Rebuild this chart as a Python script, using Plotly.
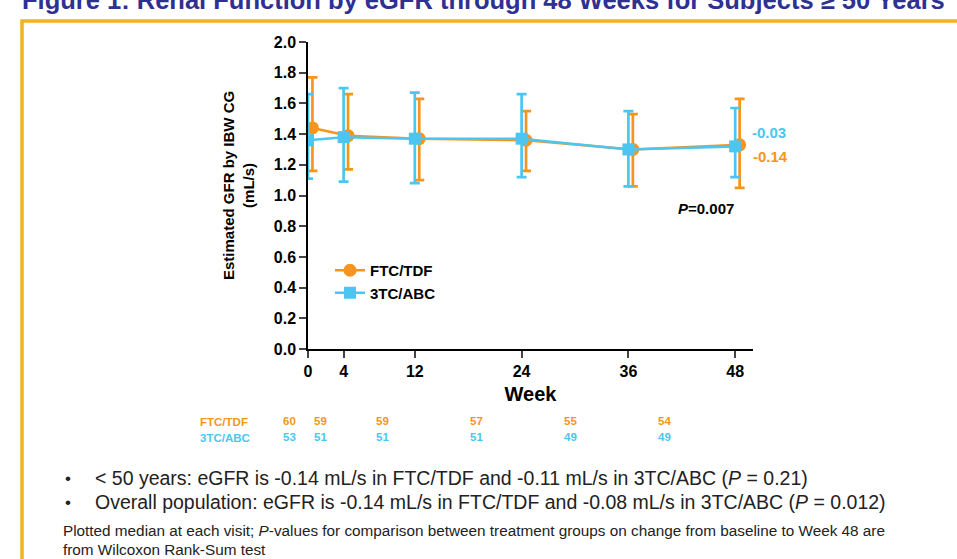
import plotly.graph_objects as go

weeks = [0, 4, 12, 24, 36, 48]
ftc_median = [1.44, 1.39, 1.37, 1.36, 1.30, 1.33]
ftc_upper = [1.77, 1.66, 1.63, 1.55, 1.53, 1.63]
ftc_lower = [1.16, 1.17, 1.10, 1.16, 1.06, 1.05]
abc_median = [1.36, 1.38, 1.37, 1.37, 1.30, 1.32]
abc_upper = [1.66, 1.70, 1.67, 1.66, 1.55, 1.57]
abc_lower = [1.11, 1.09, 1.08, 1.12, 1.06, 1.12]
ftc_n = [60, 59, 59, 57, 55, 54]
abc_n = [53, 51, 51, 51, 49, 49]
ftc_change = "-0.14"
abc_change = "-0.03"
p_value = "0.007"
x_ticks = [0, 4, 12, 24, 36, 48]
y_ticks = [0.0, 0.2, 0.4, 0.6, 0.8, 1.0, 1.2, 1.4, 1.6, 1.8, 2.0]

ORANGE = "#F7941E"
BLUE = "#4CC6F0"
NAVY = "#2E3192"
GOLD = "#F0B323"
TXT = "#222222"
FONT = "Arial, Liberation Sans, sans-serif"

W, H = 957, 559
L, R, T, B = 308, 204, 42, 210
PW, PH = W - L - R, H - T - B


def px(x):
    return (x - L) / PW


def py(y):
    return (H - B - y) / PH


dodge = 0.5

fig = go.Figure()
fig.add_trace(go.Scatter(
    x=[w + dodge for w in weeks], y=ftc_median, name="FTC/TDF",
    mode="lines+markers",
    line=dict(color=ORANGE, width=2.5),
    marker=dict(symbol="circle", size=13, color=ORANGE),
    error_y=dict(type="data", symmetric=False,
                 array=[u - m for u, m in zip(ftc_upper, ftc_median)],
                 arrayminus=[m - l for l, m in zip(ftc_lower, ftc_median)],
                 color=ORANGE, thickness=2.7, width=5),
))
fig.add_trace(go.Scatter(
    x=weeks, y=abc_median, name="3TC/ABC",
    mode="lines+markers",
    line=dict(color=BLUE, width=2.5),
    marker=dict(symbol="square", size=12, color=BLUE),
    error_y=dict(type="data", symmetric=False,
                 array=[u - m for u, m in zip(abc_upper, abc_median)],
                 arrayminus=[m - l for l, m in zip(abc_lower, abc_median)],
                 color=BLUE, thickness=2.7, width=5),
))

fig.update_layout(
    width=W, height=H,
    margin=dict(l=L, r=R, t=T, b=B, autoexpand=False),
    paper_bgcolor="white", plot_bgcolor="white",
    font=dict(family=FONT, color="black"),
    showlegend=True,
    legend=dict(x=px(330), y=py(254), xanchor="left", yanchor="top",
                bgcolor="rgba(0,0,0,0)", tracegroupgap=0,
                font=dict(size=15, family=FONT, color="black", weight="bold"),
                itemwidth=30),
)
fig.update_xaxes(
    range=[0, 50], tickvals=x_ticks, ticks="outside", ticklen=7, tickwidth=1.5,
    showline=True, linecolor="black", linewidth=1.5, showgrid=False, zeroline=False,
    tickfont=dict(size=16, family=FONT, weight="bold"),
    title=dict(text="<b>Week</b>", font=dict(size=20, family=FONT), standoff=8),
)
fig.update_yaxes(
    range=[0, 2.0], tickvals=y_ticks, tickformat=".1f", ticks="outside", ticklen=7,
    tickwidth=1.5, showline=True, linecolor="black", linewidth=1.5,
    showgrid=False, zeroline=False,
    tickfont=dict(size=16, family=FONT, weight="bold"),
)

ann = []
ann.append(dict(xref="paper", yref="paper", x=px(238), y=py(186), xanchor="center",
                yanchor="middle", textangle=-90, showarrow=False,
                text="<b>Estimated GFR by IBW CG<br>(mL/s)</b>",
                font=dict(size=15, color="black", family=FONT)))
ann.append(dict(xref="paper", yref="paper", x=px(750), y=py(132), xanchor="left",
                yanchor="middle", text=f"<b>{abc_change}</b>", showarrow=False,
                font=dict(size=15, color=BLUE, family=FONT)))
ann.append(dict(xref="paper", yref="paper", x=px(751), y=py(156), xanchor="left",
                yanchor="middle", text=f"<b>{ftc_change}</b>", showarrow=False,
                font=dict(size=15, color=ORANGE, family=FONT)))
ann.append(dict(xref="paper", yref="paper", x=px(736), y=py(208), xanchor="right",
                yanchor="middle", text=f"<b><i>P</i>={p_value}</b>", showarrow=False,
                font=dict(size=15, color="black", family=FONT)))

# number-at-risk table
ann.append(dict(xref="paper", yref="paper", x=px(198), y=py(422), xanchor="left",
                yanchor="middle", text="<b>FTC/TDF</b>", showarrow=False,
                font=dict(size=11.5, color=ORANGE, family=FONT)))
ann.append(dict(xref="paper", yref="paper", x=px(198), y=py(438), xanchor="left",
                yanchor="middle", text="<b>3TC/ABC</b>", showarrow=False,
                font=dict(size=11.5, color=BLUE, family=FONT)))
for w, a, b in zip(weeks, ftc_n, abc_n):
    xp = px(289 + 7.83 * w)
    ann.append(dict(xref="paper", yref="paper", x=xp, y=py(421), xanchor="center",
                    yanchor="middle", text=f"<b>{a}</b>", showarrow=False,
                    font=dict(size=11.5, color=ORANGE, family=FONT)))
    ann.append(dict(xref="paper", yref="paper", x=xp, y=py(437), xanchor="center",
                    yanchor="middle", text=f"<b>{b}</b>", showarrow=False,
                    font=dict(size=11.5, color=BLUE, family=FONT)))

# title (cut at top)
ann.append(dict(xref="paper", yref="paper", x=px(20), y=py(0), xanchor="left",
                yanchor="middle", showarrow=False,
                text="<b>Figure 1: Renal Function by eGFR through 48 Weeks for Subjects \u2265 50 Years</b>",
                font=dict(size=25.5, color=NAVY, family=FONT)))

bullets = [
    "< 50 years: eGFR is -0.14 mL/s in FTC/TDF and -0.11 mL/s in 3TC/ABC (<i>P</i> = 0.21)",
    "Overall population: eGFR is -0.14 mL/s in FTC/TDF and -0.08 mL/s in 3TC/ABC (<i>P</i> = 0.012)",
]
for i, t in enumerate(bullets):
    yy = 478 + 24 * i
    ann.append(dict(xref="paper", yref="paper", x=px(63), y=py(yy), xanchor="left",
                    yanchor="middle", text="\u2022", showarrow=False,
                    font=dict(size=17, color=TXT, family=FONT)))
    ann.append(dict(xref="paper", yref="paper", x=px(93), y=py(yy), xanchor="left",
                    yanchor="middle", text=t, showarrow=False,
                    font=dict(size=19.5, color=TXT, family=FONT)))
foot = [
    "Plotted median at each visit; <i>P</i>-values for comparison between treatment groups on change from baseline to Week 48 are",
    "from Wilcoxon Rank-Sum test",
]
for i, t in enumerate(foot):
    ann.append(dict(xref="paper", yref="paper", x=px(61), y=py(530 + 19 * i),
                    xanchor="left", yanchor="middle", text=t, showarrow=False,
                    font=dict(size=15.3, color=TXT, family=FONT)))
fig.update_layout(annotations=ann)

# gold frame
fig.add_shape(type="path", xref="paper", yref="paper",
              path=f"M {px(22)} {py(570)} L {px(22)} {py(21)} L {px(970)} {py(21)}",
              line=dict(color=GOLD, width=3.5))

fig.write_html("out.html", config={"displayModeBar": False},
               post_script="document.body.style.margin='0';")
